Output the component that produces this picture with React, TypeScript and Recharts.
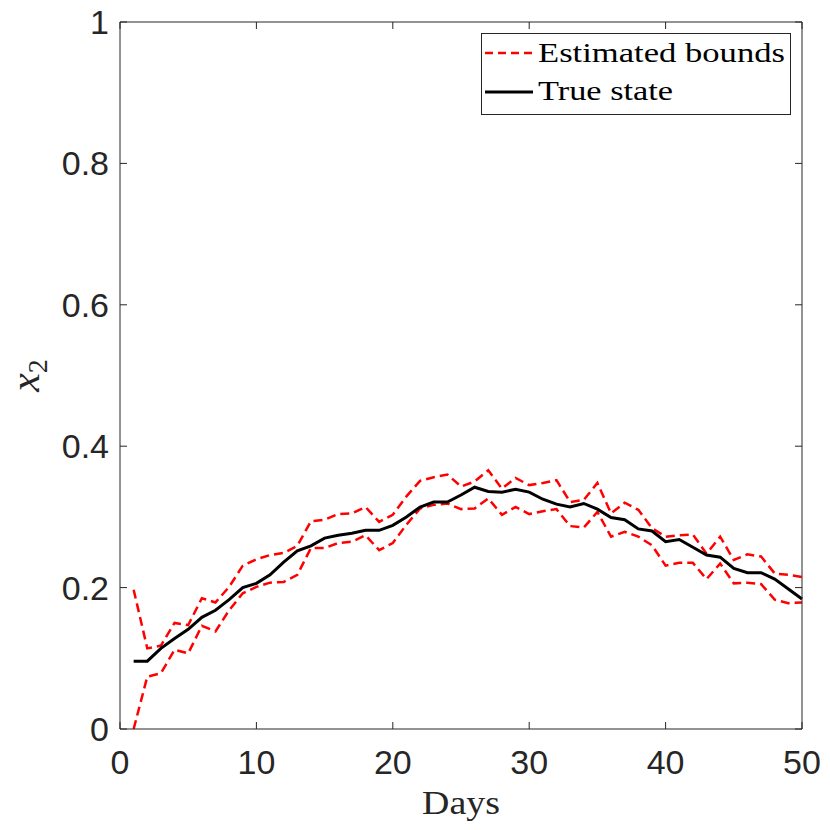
import { LineChart, Line, XAxis, YAxis } from "recharts";

const days = [
  1, 2, 3, 4, 5, 6, 7, 8, 9, 10, 11, 12, 13, 14, 15, 16, 17, 18, 19, 20, 21, 22, 23, 24, 25,
  26, 27, 28, 29, 30, 31, 32, 33, 34, 35, 36, 37, 38, 39, 40, 41, 42, 43, 44, 45, 46, 47, 48, 49, 50,
];

const upperBound = [
  0.197, 0.114, 0.118, 0.15, 0.147, 0.185, 0.179, 0.201, 0.231, 0.24, 0.246, 0.249, 0.259, 0.294,
  0.296, 0.304, 0.305, 0.314, 0.293, 0.303, 0.329, 0.351, 0.356, 0.36, 0.343, 0.35, 0.366, 0.34,
  0.355, 0.345, 0.348, 0.352, 0.321, 0.324, 0.348, 0.305, 0.32, 0.31, 0.284, 0.272, 0.274, 0.275,
  0.248, 0.272, 0.239, 0.247, 0.244, 0.22, 0.218, 0.215,
];

const lowerBound = [
  0.0, 0.074, 0.079, 0.112, 0.107, 0.146, 0.138, 0.168, 0.192, 0.201, 0.207, 0.208, 0.218, 0.256,
  0.256, 0.263, 0.265, 0.274, 0.253, 0.263, 0.289, 0.312, 0.317, 0.319, 0.311, 0.312, 0.326, 0.303,
  0.314, 0.304, 0.308, 0.311, 0.287, 0.285, 0.307, 0.272, 0.279, 0.272, 0.26, 0.231, 0.235, 0.235,
  0.212, 0.234, 0.206, 0.207, 0.205, 0.183, 0.178, 0.179,
];

const trueState = [
  0.096, 0.096, 0.114, 0.128, 0.141, 0.158, 0.168, 0.183, 0.2, 0.206, 0.218, 0.236, 0.252, 0.259,
  0.27, 0.274, 0.277, 0.281, 0.281, 0.288, 0.3, 0.314, 0.321, 0.321, 0.331, 0.342, 0.336, 0.335,
  0.339, 0.335, 0.325, 0.318, 0.314, 0.319, 0.311, 0.299, 0.296, 0.283, 0.28, 0.265, 0.268, 0.257,
  0.246, 0.243, 0.227, 0.221, 0.221, 0.212, 0.198, 0.184,
];

const xTicks = [0, 10, 20, 30, 40, 50];
const yTicks = [0, 0.2, 0.4, 0.6, 0.8, 1];

const data = days.map((d, i) => ({
  day: d,
  upper: upperBound[i],
  lower: lowerBound[i],
  truth: trueState[i],
}));

const AX = "#262626";
const SANS = "'Liberation Sans', Arial, Helvetica, sans-serif";
const SERIF = "'Liberation Serif', 'Times New Roman', serif";
const TICK_LEN = 7;

const BottomTick = (props: any) => {
  const { x, y, payload } = props;
  return (
    <g>
      <line x1={x} y1={y} x2={x} y2={y - TICK_LEN} stroke={AX} strokeWidth={1} />
      <text x={x} y={y + 45} textAnchor="middle" fontSize={34} fontFamily={SANS} fill={AX}>
        {payload.value}
      </text>
    </g>
  );
};

const TopTick = (props: any) => {
  const { x, y } = props;
  return <line x1={x} y1={y} x2={x} y2={y + TICK_LEN} stroke={AX} strokeWidth={1} />;
};

const LeftTick = (props: any) => {
  const { x, y, payload } = props;
  return (
    <g>
      <line x1={x} y1={y} x2={x + TICK_LEN} y2={y} stroke={AX} strokeWidth={1} />
      <text x={x - 11} y={y + 12} textAnchor="end" fontSize={34} fontFamily={SANS} fill={AX}>
        {String(payload.value)}
      </text>
    </g>
  );
};

const RightTick = (props: any) => {
  const { x, y } = props;
  return <line x1={x} y1={y} x2={x - TICK_LEN} y2={y} stroke={AX} strokeWidth={1} />;
};

const DaysLabel = (props: any) => {
  const vb = props.viewBox || { x: 120, y: 729, width: 682 };
  return (
    <text
      x={vb.x + vb.width / 2}
      y={vb.y + 85}
      textAnchor="middle"
      fontSize={34}
      fontFamily={SERIF}
      fill={AX}
      textLength={78}
      lengthAdjust="spacingAndGlyphs"
    >
      Days
    </text>
  );
};

const StateLabel = (props: any) => {
  const vb = props.viewBox || { x: 60, y: 22, height: 707 };
  const cx = 39;
  const cy = vb.y + vb.height / 2;
  return (
    <text
      x={cx}
      y={cy}
      transform={`rotate(-90, ${cx}, ${cy})`}
      textAnchor="middle"
      fontFamily={SERIF}
      fill={AX}
    >
      <tspan fontSize={42} fontStyle="italic">x</tspan>
      <tspan fontSize={28} dy={8}>2</tspan>
    </text>
  );
};

const LegendBox = () => (
  <svg
    width={312}
    height={84}
    style={{ position: "absolute", left: 481, top: 33, overflow: "visible" }}
  >
    <rect x={0.5} y={0.5} width={309} height={81} fill="#fff" stroke={AX} strokeWidth={1} />
    <line x1={4} y1={20} x2={52} y2={20} stroke="#ff0000" strokeWidth={2.5} strokeDasharray="8 5" />
    <text
      x={57}
      y={29}
      fontSize={28}
      fontFamily={SERIF}
      fill="#000"
      textLength={247}
      lengthAdjust="spacingAndGlyphs"
    >
      Estimated bounds
    </text>
    <line x1={4} y1={59} x2={52} y2={59} stroke="#000" strokeWidth={3} />
    <text
      x={57}
      y={67}
      fontSize={28}
      fontFamily={SERIF}
      fill="#000"
      textLength={135}
      lengthAdjust="spacingAndGlyphs"
    >
      True state
    </text>
  </svg>
);

export default function App() {
  return (
    <div style={{ position: "absolute", left: 0, top: 0, width: 830, height: 830, background: "#fff" }}>
      <LineChart width={830} height={830} data={data} margin={{ top: 12, right: 18, bottom: 61, left: 60 }}>
        <XAxis
          xAxisId="bottom"
          dataKey="day"
          type="number"
          domain={[0, 50]}
          ticks={xTicks}
          height={40}
          tickSize={0}
          tickMargin={0}
          tickLine={false}
          axisLine={{ stroke: AX, strokeWidth: 1 }}
          tick={BottomTick}
          label={<DaysLabel />}
        />
        <XAxis
          xAxisId="top"
          orientation="top"
          dataKey="day"
          type="number"
          domain={[0, 50]}
          ticks={xTicks}
          height={10}
          tickSize={0}
          tickMargin={0}
          tickLine={false}
          axisLine={{ stroke: AX, strokeWidth: 1 }}
          tick={TopTick}
        />
        <YAxis
          yAxisId="left"
          type="number"
          domain={[0, 1]}
          ticks={yTicks}
          width={60}
          tickSize={0}
          tickMargin={0}
          tickLine={false}
          axisLine={{ stroke: AX, strokeWidth: 1 }}
          tick={LeftTick}
          label={<StateLabel />}
        />
        <YAxis
          yAxisId="right"
          orientation="right"
          type="number"
          domain={[0, 1]}
          ticks={yTicks}
          width={10}
          tickSize={0}
          tickMargin={0}
          tickLine={false}
          axisLine={{ stroke: AX, strokeWidth: 1 }}
          tick={RightTick}
        />
        <Line
          xAxisId="bottom"
          yAxisId="left"
          dataKey="lower"
          stroke="#ff0000"
          strokeWidth={2.5}
          strokeDasharray="9 5"
          dot={false}
          type="linear"
          isAnimationActive={false}
        />
        <Line
          xAxisId="top"
          yAxisId="right"
          dataKey="upper"
          stroke="#ff0000"
          strokeWidth={2.5}
          strokeDasharray="9 5"
          dot={false}
          type="linear"
          isAnimationActive={false}
        />
        <Line
          xAxisId="bottom"
          yAxisId="left"
          dataKey="truth"
          stroke="#000000"
          strokeWidth={3}
          dot={false}
          type="linear"
          isAnimationActive={false}
        />
      </LineChart>
      <LegendBox />
    </div>
  );
}
